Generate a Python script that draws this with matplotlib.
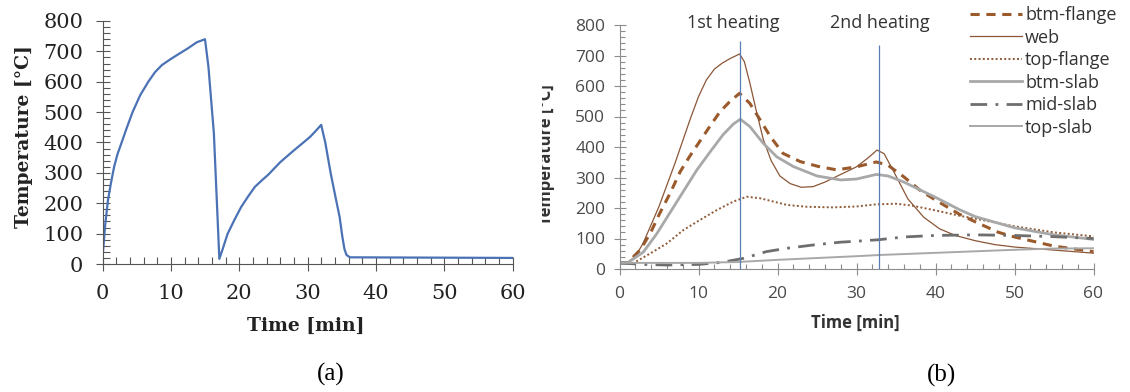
import matplotlib
matplotlib.use("Agg")
import matplotlib.pyplot as plt
from matplotlib.ticker import MultipleLocator
from matplotlib.transforms import Bbox

W, H = 1130, 392

# ---- panel (a): fire curve ----
fire_t = [0, 0.15, 0.4, 0.8, 1.2, 1.7, 2.2, 2.8, 3.5, 4.4, 5.5, 6.7, 7.7, 8.7, 10.0,
          11.2, 12.5, 13.8, 15.0, 15.5, 16.3, 17.1, 17.6, 18.3, 19.3, 20.3, 21.3,
          22.3, 23.3, 24.3, 26.0, 27.9, 29.4, 30.4, 31.2, 32.0, 32.6, 33.4, 34.1,
          34.7, 35.1, 35.4, 35.7, 36.2, 60]
fire_T = [20, 60, 130, 210, 262, 320, 362, 400, 445, 500, 555, 600, 632, 655, 675,
          692, 710, 730, 740, 650, 430, 17, 50, 99, 145, 188, 222,
          254, 275, 295, 335, 372, 400, 419, 438, 458, 400, 298, 220,
          155, 90, 50, 30, 22, 20]

# ---- panel (b): section temperatures ----
web_t = [0, 1, 2, 3, 4, 5, 6, 7, 8, 9, 10, 11, 12, 13, 14, 15.2, 15.8, 16.5, 17.3,
         18.2, 19.2, 20.3, 21.6, 23, 24.5, 26, 28, 30, 31.5, 32.6, 33.5, 34.7, 36.5,
         38.5, 40.5, 42.5, 45, 47.5, 50, 55, 60]
web_T = [20, 22, 40, 85, 145, 205, 275, 345, 420, 495, 565, 620, 655, 675, 690, 705,
         680, 610, 520, 425, 355, 305, 280, 268, 270, 285, 310, 335, 365, 390, 378,
         320, 230, 170, 132, 110, 93, 80, 72, 62, 52]

bf_t = [0, 1, 2.6, 3.9, 5.1, 6.4, 7.7, 8.9, 10.2, 11.5, 12.7, 14, 15.2, 16.5, 17.8,
        19.1, 20.7, 22.9, 25.2, 27.5, 30, 32.5, 34, 36, 38, 40, 43, 45, 48, 50, 55, 60]
bf_T = [20, 20, 62, 117, 183, 248, 320, 370, 420, 470, 515, 550, 576, 543, 489, 434,
        379, 352, 336, 325, 335, 351, 340, 302, 259, 226, 180, 155, 120, 105, 75, 57]

tf_t = [0, 1.8, 3.9, 6, 8.1, 10.2, 12.3, 14.4, 16.1, 17.8, 19.5, 21.2, 23.7, 27, 30,
        32.5, 35, 37, 40, 43, 45, 50, 55, 60]
tf_T = [20, 20, 51, 84, 128, 161, 193, 221, 237, 232, 221, 210, 204, 202, 205, 212,
        214, 208, 192, 175, 165, 140, 120, 107]

bs_t = [0, 1, 3, 4.7, 6.4, 8.1, 9.8, 11.5, 13.1, 14.4, 15.3, 16.5, 18.2, 19.9, 22,
        25, 28, 30, 32.5, 34, 36, 38, 40, 43, 45, 50, 55, 60]
bs_T = [20, 20, 55, 115, 185, 255, 325, 385, 440, 475, 491, 467, 412, 368, 336, 305,
        292, 295, 310, 305, 285, 260, 235, 195, 172, 135, 112, 97]

ms_t = [0, 3, 6, 10, 13, 15.7, 18.6, 21.2, 24.6, 28, 30, 32.8, 36, 40, 45, 50, 55, 60]
ms_T = [20, 15, 13, 15, 22, 35, 57, 68, 79, 88, 91, 96, 105, 110, 112, 110, 106, 100]

ts_t = [0, 10, 15, 20, 25, 30, 33, 40, 45, 50, 55, 60]
ts_T = [20, 20, 23, 30, 36, 42, 46, 53, 58, 63, 67, 68]

heat_t = [15.2, 32.8]
heat_top = [748, 733]
heat_labels = ["1st heating", "2nd heating"]


def px(x, y):
    return x / W, 1 - y / H


fig = plt.figure(figsize=(W / 100, H / 100), dpi=100)

# === panel (a) ===
serif = "DejaVu Serif"
axa = fig.add_axes([102.5 / W, 1 - 264 / H, 410 / W, 243 / H])
axa.plot(fire_t, fire_T, color="#4a72b5", lw=1.6)
axa.set_xlim(0, 60)
axa.set_ylim(0, 800)
axa.xaxis.set_major_locator(MultipleLocator(10))
axa.xaxis.set_minor_locator(MultipleLocator(2))
axa.yaxis.set_major_locator(MultipleLocator(100))
axa.yaxis.set_minor_locator(MultipleLocator(20))
for s in ["top", "right"]:
    axa.spines[s].set_visible(False)
for s in ["left", "bottom"]:
    axa.spines[s].set_color("#555555")
axa.tick_params(which="major", direction="inout", length=9.4, width=0.8, color="#555555",
                labelsize=15, labelcolor="#222222")
axa.tick_params(axis="y", which="major", pad=9)
axa.tick_params(axis="x", which="major", pad=10)
axa.tick_params(which="minor", direction="in", length=4.7, width=0.8, color="#555555")
for lab in axa.get_xticklabels() + axa.get_yticklabels():
    lab.set_family(serif)

fig.text(*px(306, 326), "Time [min]", family=serif, weight="bold", fontsize=13.5,
         ha="center", va="center", color="#222222")
fig.text(*px(24, 137), "Temperature [°C]", family=serif, weight="bold", fontsize=13.5,
         rotation=90, ha="center", va="center", color="#222222")
fig.text(*px(331, 374), "(a)", family="Liberation Serif", fontsize=18,
         ha="center", va="center")

# === panel (b) ===
sans = "Open Sans"
axb = fig.add_axes([619.5 / W, 1 - 269 / H, 474 / W, 244 / H])
axb.plot(bf_t, bf_T, color="#9a5a2c", lw=2.2, ls=(0, (3, 2.2)), label="btm-flange")
axb.plot(web_t, web_T, color="#8a5636", lw=0.9, label="web")
axb.plot(tf_t, tf_T, color="#8f5a36", lw=1.4, ls=(0, (1, 1.2)), label="top-flange")
axb.plot(bs_t, bs_T, color="#a8a8a8", lw=2.0, label="btm-slab")
axb.plot(ms_t, ms_T, color="#6e6e6e", lw=2.0, ls=(0, (6, 3, 1, 3)), label="mid-slab")
axb.plot(ts_t, ts_T, color="#a8a8a8", lw=1.4, label="top-slab")
axb.vlines(heat_t, 0, heat_top, color="#5b7db5", lw=0.9)
axb.set_xlim(0, 60)
axb.set_ylim(0, 800)
axb.xaxis.set_major_locator(MultipleLocator(10))
axb.xaxis.set_minor_locator(MultipleLocator(2))
axb.yaxis.set_major_locator(MultipleLocator(100))
axb.yaxis.set_minor_locator(MultipleLocator(20))
for s in ["top", "right"]:
    axb.spines[s].set_visible(False)
for s in ["left", "bottom"]:
    axb.spines[s].set_color("#8c8c8c")
axb.tick_params(which="major", direction="inout", length=8.6, width=0.8, color="#8c8c8c",
                labelsize=12.5, labelcolor="#4a4a4a")
axb.tick_params(axis="y", which="major", pad=6)
axb.tick_params(axis="x", which="major", pad=8)
axb.tick_params(which="minor", direction="in", length=3.4, width=0.8, color="#8c8c8c")
for lab in axb.get_xticklabels() + axb.get_yticklabels():
    lab.set_family(sans)

for lab, xc in zip(heat_labels, [733, 880]):
    fig.text(*px(xc, 23), lab, family=sans, fontsize=13, ha="center", va="center",
             color="#333333")

fig.text(*px(855, 323), "Time [min]", family=sans, weight="bold", fontsize=12,
         ha="center", va="center", color="#333333")
yl = fig.text(*px(551, 155), "Temperature [°C]", family=sans, weight="bold", fontsize=12,
              rotation=90, rotation_mode="anchor", ha="center", va="baseline",
              color="#333333")
# the reference cuts off the left edge of this label
yl.set_clip_box(Bbox.from_extents(541.5, 0, W, H))
yl.set_clip_on(True)

fig.legend(*axb.get_legend_handles_labels(), loc="upper left",
           bbox_to_anchor=px(970, 6), frameon=False, borderpad=0, borderaxespad=0,
           handlelength=2.9, handletextpad=0.15, labelspacing=0.25,
           prop={"family": sans, "size": 13}, labelcolor="#333333")

fig.text(*px(942, 375), "(b)", family="Liberation Serif", fontsize=18,
         ha="center", va="center")

fig.savefig("out.png", dpi=100)
